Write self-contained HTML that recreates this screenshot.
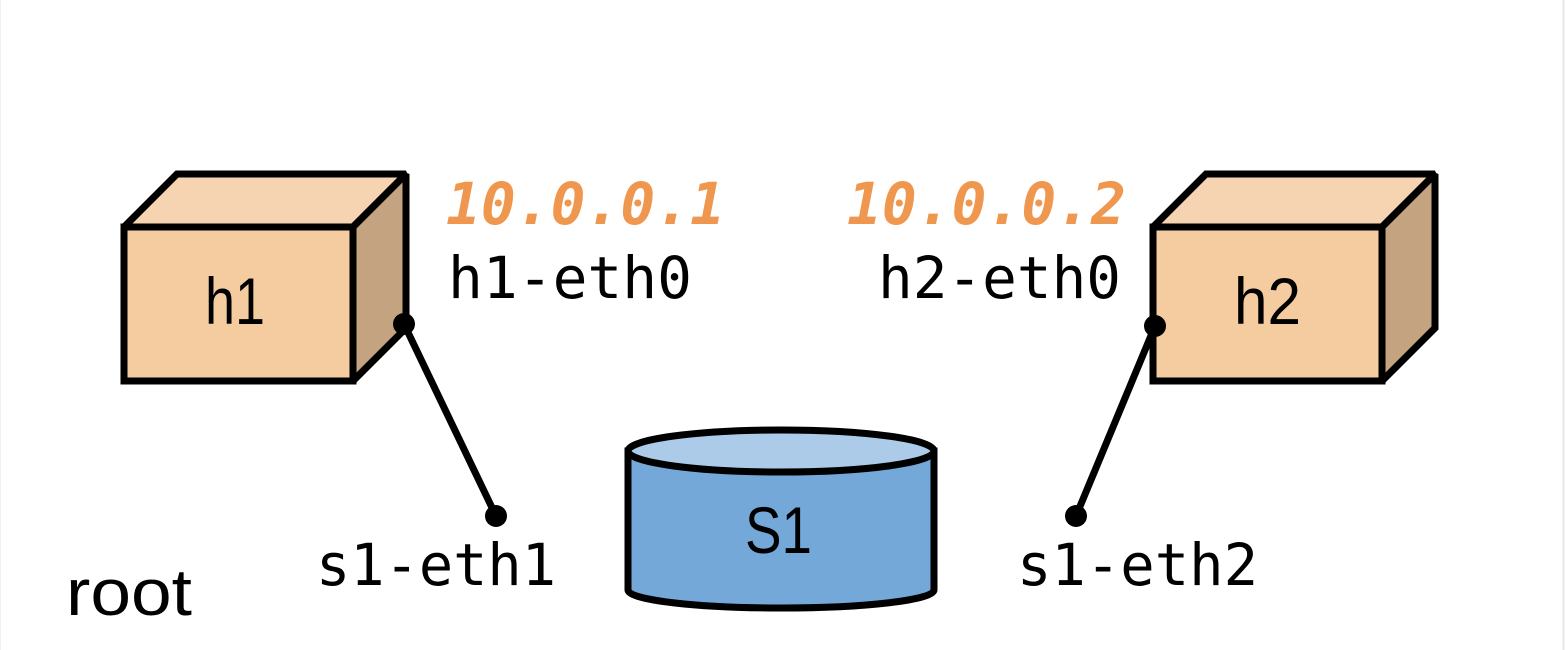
<!DOCTYPE html>
<html><head><style>
html,body{margin:0;padding:0;background:#fff;}
svg{display:block;}
.m{font-family:"DejaVu Sans Mono","Liberation Mono",monospace;font-size:58px;fill:#000;}
.ip{font-family:"DejaVu Sans Mono","Liberation Mono",monospace;font-size:58px;font-style:italic;font-weight:bold;fill:#f0974f;}
.s{font-family:"Liberation Sans",sans-serif;fill:#000;}
</style></head><body>
<svg width="1566" height="650" viewBox="0 0 1566 650" xmlns="http://www.w3.org/2000/svg">
<rect x="0" y="0" width="1566" height="650" fill="#fff"/>
<line x1="1563.5" y1="0" x2="1563.5" y2="650" stroke="#e6e6e6" stroke-width="2"/>
<line x1="0.5" y1="0" x2="0.5" y2="650" stroke="#f0f0f0" stroke-width="1"/>
<g stroke="#000" stroke-width="7" stroke-linejoin="miter" stroke-miterlimit="2">
<polygon points="124,227 177,174 406,174 353,227" fill="#f7d4b1"/>
<polygon points="353,227 406,174 406,328 353,381" fill="#c4a381"/>
<rect x="124" y="227" width="229" height="154" fill="#f5cba0"/>
<polygon points="1153,227 1206,174 1435,174 1382,227" fill="#f7d4b1"/>
<polygon points="1382,227 1435,174 1435,328 1382,381" fill="#c4a381"/>
<rect x="1153" y="227" width="229" height="154" fill="#f5cba0"/>
<path d="M628,451 L628,590 A153,18 0 0 0 934,590 L934,451 Z" fill="#74a8d8"/>
<ellipse cx="781" cy="451" rx="153" ry="21" fill="#abcbe8"/>
<line x1="404" y1="324" x2="496" y2="516"/>
<line x1="1155" y1="326" x2="1076" y2="516"/>
</g>
<g fill="#000">
<circle cx="404" cy="324" r="11"/>
<circle cx="496" cy="516" r="11"/>
<circle cx="1155" cy="326" r="11"/>
<circle cx="1076" cy="516" r="11"/>
</g>
<text class="s" x="205" y="324" font-size="66" textLength="60" lengthAdjust="spacingAndGlyphs">h1</text>
<text class="s" x="1234" y="324" font-size="66" textLength="67" lengthAdjust="spacingAndGlyphs">h2</text>
<text class="s" x="745" y="553" font-size="66" textLength="67" lengthAdjust="spacingAndGlyphs">S1</text>
<text class="s" x="66" y="615" font-size="66" textLength="126" lengthAdjust="spacingAndGlyphs">root</text>
<text class="ip" x="446" y="224" textLength="279" lengthAdjust="spacingAndGlyphs">10.0.0.1</text>
<text class="ip" x="847" y="224" textLength="279" lengthAdjust="spacingAndGlyphs">10.0.0.2</text>
<text class="m" x="448" y="298" textLength="244" lengthAdjust="spacingAndGlyphs">h1-eth0</text>
<text class="m" x="878" y="298" textLength="243" lengthAdjust="spacingAndGlyphs">h2-eth0</text>
<text class="m" x="316" y="585" textLength="240" lengthAdjust="spacingAndGlyphs">s1-eth1</text>
<text class="m" x="1017" y="585" textLength="241" lengthAdjust="spacingAndGlyphs">s1-eth2</text>
</svg>
</body></html>
